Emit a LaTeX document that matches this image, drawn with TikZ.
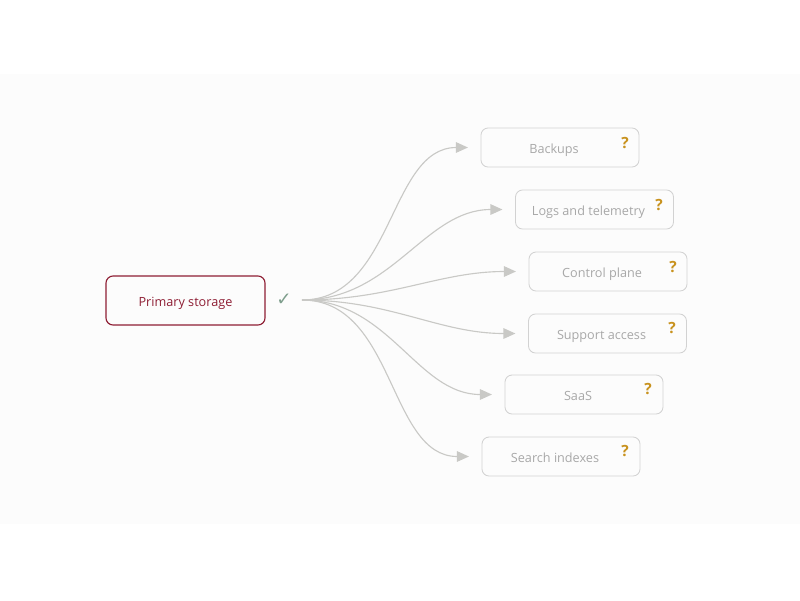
\documentclass[tikz,border=0pt]{standalone}
\usepackage{fontspec}
\setmainfont{Open Sans}
\newfontfamily\symfont{DejaVu Sans}
\usetikzlibrary{arrows.meta}
\begin{document}
\begin{tikzpicture}[x=0.025cm, y=-0.025cm,
  box/.style={draw=boxgray, rounded corners=5pt, minimum width=158*0.025cm, minimum height=39*0.025cm, text=textgray, font=\fontsize{9}{11}\selectfont, line width=0.6pt, text height=2.2ex, text depth=0.5ex, execute at end node=\hspace{8.5pt}},
  qmark/.style={text=qgold, font=\fontsize{11}{13}\selectfont\bfseries},
  link/.style={draw=linegray, line width=0.8pt, -{Triangle[length=8.5pt, width=7.5pt]}, shorten >=9pt, out=0, in=180}]
\definecolor{boxgray}{HTML}{D2D2D2}
\definecolor{textgray}{HTML}{A8A8A8}
\definecolor{linegray}{HTML}{C9C9C6}
\definecolor{qgold}{HTML}{C8921E}
\definecolor{darkred}{HTML}{8E1E34}
\definecolor{checkgreen}{HTML}{7E9E8C}
\definecolor{bandgray}{HTML}{FCFCFC}

\useasboundingbox (0,0) rectangle (800,600);
\fill[bandgray] (0,74) rectangle (800,524);

\node[draw=darkred, rounded corners=5pt, minimum width=159*0.025cm, minimum height=49*0.025cm, text=darkred, font=\fontsize{9}{11}\selectfont, line width=0.8pt, text height=2.2ex, text depth=0.5ex] (0) at (185.5,300.5) {Primary storage};
\node[text=checkgreen, font=\symfont\fontsize{13}{15}\selectfont] (ok) at (284,300) {✓};
\coordinate (src) at (302,300);

\node[box] (1) at (560,147.5) {Backups};
\node[box] (2) at (594.5,209.5) {Logs and telemetry};
\node[box] (3) at (608,271.5) {Control plane};
\node[box] (4) at (607.5,333.5) {Support access};
\node[box] (5) at (584,394.5) {SaaS};
\node[box] (6) at (561,456.5) {Search indexes};

\node[qmark] (q1) at (625,143) {?};
\node[qmark] (q2) at (659,205) {?};
\node[qmark] (q3) at (673,267) {?};
\node[qmark] (q4) at (672,328) {?};
\node[qmark] (q5) at (648,389) {?};
\node[qmark] (q6) at (625,451) {?};

\path[link] (src) to (1.west);
\path[link] (src) to (2.west);
\path[link] (src) to (3.west);
\path[link] (src) to (4.west);
\path[link] (src) to (5.west);
\path[link] (src) to (6.west);
\end{tikzpicture}
\end{document}
